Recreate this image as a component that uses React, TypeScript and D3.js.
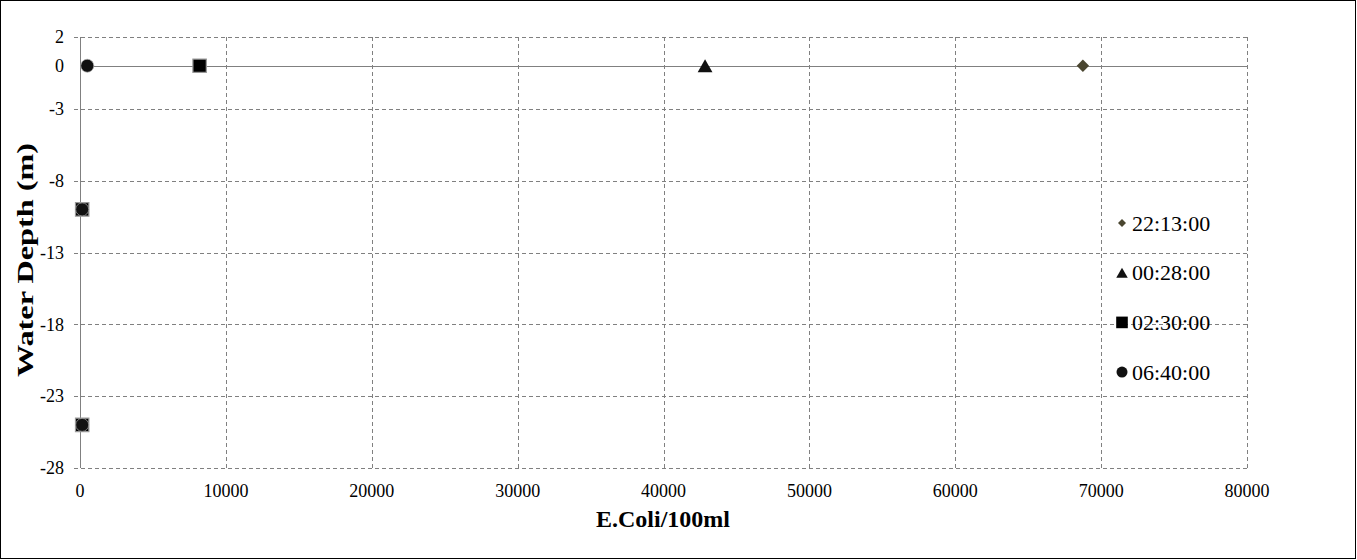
import React, { useEffect, useRef } from 'react';
import * as d3 from 'd3';

const seriesNames = ['22:13:00', '00:28:00', '02:30:00', '06:40:00'];
const seriesShapes = ['diamond', 'triangle', 'square', 'circle'];
const seriesColors = ['#4a4630', '#111111', '#000000', '#111111'];
const s2213 = [{ x: 68750, y: 0 }];
const s0028 = [{ x: 42850, y: 0 }];
const s0230 = [{ x: 8200, y: 0 }, { x: 150, y: -10 }, { x: 150, y: -25 }];
const s0640 = [{ x: 500, y: 0 }, { x: 150, y: -10 }, { x: 150, y: -25 }];
const xTicks = [0, 10000, 20000, 30000, 40000, 50000, 60000, 70000, 80000];
const yTicks = [2, 0, -3, -8, -13, -18, -23, -28];

const App = () => {
  const svgRef = useRef<SVGSVGElement>(null);

  useEffect(() => {
    const W = 1357, H = 560;
    const margin = { top: 37, right: 110, bottom: 92, left: 80 };
    const width = 1247 - margin.left;
    const height = 468 - margin.top;
    const font = '"Liberation Serif", "Times New Roman", serif';

    const root = d3.select(svgRef.current);
    root.selectAll('*').remove();
    root.attr('width', W).attr('height', H);

    root.append('rect')
      .attr('x', 0.5).attr('y', 0.5)
      .attr('width', W - 2).attr('height', H - 2)
      .attr('fill', '#fff').attr('stroke', '#000');

    const svg = root.append('g')
      .attr('transform', `translate(${margin.left},${margin.top})`);

    const x = d3.scaleLinear().domain([0, 80000]).range([0, width]);
    const y = d3.scaleLinear().domain([-28, 2]).range([height, 0]);

    // gridlines
    svg.append('g').selectAll('line')
      .data(xTicks.filter(d => d !== 0))
      .join('line')
      .attr('x1', d => Math.round(x(d)) + 0.5).attr('x2', d => Math.round(x(d)) + 0.5)
      .attr('y1', 0).attr('y2', height)
      .attr('stroke', '#808080').attr('stroke-dasharray', '4,3');

    svg.append('g').selectAll('line')
      .data(yTicks.filter(d => d !== 0))
      .join('line')
      .attr('x1', -6).attr('x2', width)
      .attr('y1', d => Math.round(y(d)) + 0.5).attr('y2', d => Math.round(y(d)) + 0.5)
      .attr('stroke', '#808080').attr('stroke-dasharray', '4,3');

    // axis lines
    svg.append('line')
      .attr('x1', 0).attr('x2', width)
      .attr('y1', Math.round(y(0)) + 0.5).attr('y2', Math.round(y(0)) + 0.5)
      .attr('stroke', '#808080');
    svg.append('line')
      .attr('x1', 0.5).attr('x2', 0.5)
      .attr('y1', 0).attr('y2', height)
      .attr('stroke', '#808080');

    // tick labels
    svg.append('g').selectAll('text')
      .data(yTicks)
      .join('text')
      .attr('x', -16).attr('y', d => y(d))
      .attr('dy', '0.35em')
      .attr('text-anchor', 'end')
      .attr('font-family', font)
      .attr('font-size', 18)
      .text(d => d);

    svg.append('g').selectAll('text')
      .data(xTicks)
      .join('text')
      .attr('x', d => x(d)).attr('y', height + 29)
      .attr('text-anchor', 'middle')
      .attr('font-family', font)
      .attr('font-size', 18)
      .text(d => d);

    // titles
    root.append('text')
      .attr('x', 663).attr('y', 527)
      .attr('text-anchor', 'middle')
      .attr('font-family', font)
      .attr('font-size', 24).attr('font-weight', 'bold')
      .text('E.Coli/100ml');

    root.append('text')
      .attr('transform', 'translate(33,260) rotate(-90)')
      .attr('text-anchor', 'middle')
      .attr('font-family', font)
      .attr('font-size', 24).attr('font-weight', 'bold')
      .attr('textLength', 234)
      .attr('lengthAdjust', 'spacingAndGlyphs')
      .text('Water Depth (m)');

    const symbolFor = (shape: string, k: number) => {
      if (shape === 'diamond') return d3.symbol().type(d3.symbolDiamond2).size(98 * k);
      if (shape === 'triangle') return d3.symbol().type(d3.symbolTriangle).size(95 * k);
      if (shape === 'square') return d3.symbol().type(d3.symbolSquare).size(180 * k);
      return d3.symbol().type(d3.symbolCircle).size(133 * k);
    };

    // d3's triangle is centred on its centroid; shift so its box centres on the point
    const triShift = (k: number) => Math.sqrt((95 * k) / (Math.sqrt(3) * 3)) / 2;

    const allSeries = [s2213, s0028, s0230, s0640];

    allSeries.forEach((data, i) => {
      const shape = seriesShapes[i];
      svg.append('g').selectAll('path')
        .data(data)
        .join('path')
        .attr('d', symbolFor(shape, 1)())
        .attr('transform', d => `translate(${x(d.x)},${y(d.y) + (shape === 'triangle' ? triShift(1) : 0)})`)
        .attr('fill', seriesColors[i])
        .attr('stroke', shape === 'square' ? '#999' : shape === 'circle' ? '#aaa' : 'none')
        .attr('stroke-width', shape === 'square' ? 1.2 : 0.7);
    });

    // legend
    const legend = root.append('g');
    const legendSizes: Record<string, number> = { diamond: 0.42, triangle: 0.6, square: 0.75, circle: 0.72 };
    seriesNames.forEach((name, i) => {
      const ly = 223 + i * 49.7;
      const shape = seriesShapes[i];
      const k = legendSizes[shape];
      legend.append('path')
        .attr('d', symbolFor(shape, k)())
        .attr('transform', `translate(1122,${ly + (shape === 'triangle' ? triShift(k) : 0)})`)
        .attr('fill', seriesColors[i]);
      legend.append('text')
        .attr('x', 1132).attr('y', ly)
        .attr('dy', '0.35em')
        .attr('font-family', font)
        .attr('font-size', 22)
        .text(name);
    });
  }, []);

  return (
    <svg ref={svgRef} style={{ position: 'absolute', left: 0, top: 0, display: 'block' }}></svg>
  );
};

export default App;
